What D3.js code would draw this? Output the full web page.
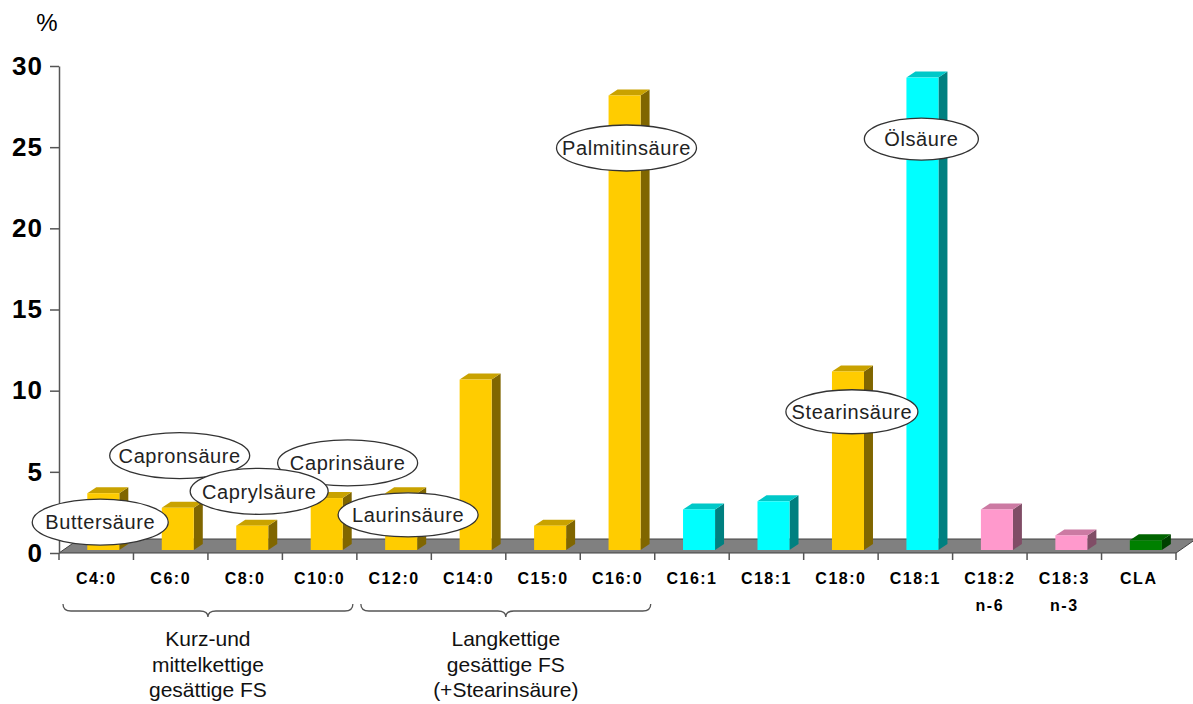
<!DOCTYPE html>
<html>
<head>
<meta charset="utf-8">
<script src="https://cdn.jsdelivr.net/npm/d3@7"></script>
<style>
  html, body { margin: 0; padding: 0; background: #fff; }
  svg { display: block; font-family: "Liberation Sans", Arial, sans-serif; }
</style>
</head>
<body>
<svg id="chart" width="1193" height="704"></svg>
<script>
// Fatty acid composition of milk fat, % of total fatty acids
const categories = ["C4:0", "C6:0", "C8:0", "C10:0", "C12:0", "C14:0", "C15:0", "C16:0",
                    "C16:1", "C18:1", "C18:0", "C18:1", "C18:2", "C18:3", "CLA"];
const subLabels  = ["", "", "", "", "", "", "", "", "", "", "", "", "n-6", "n-3", ""];
const values     = [3.5, 2.6, 1.5, 3.2, 3.5, 10.5, 1.5, 28.0, 2.5, 3.0, 11.0, 29.1, 2.5, 0.9, 0.6];
const kinds      = ["sat", "sat", "sat", "sat", "sat", "sat", "sat", "sat",
                    "mono", "mono", "sat", "mono", "poly", "poly", "cla"];
const yTicks     = [0, 5, 10, 15, 20, 25, 30];

// Named acids shown in oval callouts: category index and height (in %)
const calloutNames = ["Capronsäure", "Caprinsäure", "Buttersäure", "Caprylsäure", "Laurinsäure",
                      "Palmitinsäure", "Stearinsäure", "Ölsäure"];
const calloutCats  = [1, 3, 0, 2, 4, 7, 10, 11];
const calloutAt    = [6.0, 5.55, 1.9, 3.8, 2.35, 24.95, 8.7, 25.5];

// Category groups with braces
const groupRanges = [[0, 3], [4, 7]];
const groupLines  = [["Kurz-und", "mittelkettige", "gesättige FS"],
                     ["Langkettige", "gesättige FS", "(+Stearinsäure)"]];

// ---- layout & style ----
const colors = {
  sat:  { front: "#FFCC00", side: "#806600", top: "#C9A200" },
  mono: { front: "#00FFFF", side: "#008080", top: "#00C8C8" },
  poly: { front: "#FF99CC", side: "#804D66", top: "#CC7AA3" },
  cla:  { front: "#008000", side: "#004000", top: "#006400" }
};
const calloutOffset = [9, 28, 4, 14, 14, 9, 11, 6];
const calloutRx     = [70, 70, 68, 69, 70, 70, 66, 57];
const calloutRy     = [23, 23, 23, 23, 22, 23, 22, 21];

const svg = d3.select("#chart");
const x0 = 59, x1 = 1176, yBase = 553;
const floorDx = 20, floorDy = 14;
const barDx = 9, barDy = 6;

const x = d3.scaleBand().domain(d3.range(categories.length)).range([x0, x1]).padding(0);
const y = d3.scaleLinear().domain([0, 30]).range([yBase, 66]);
// bars stand slightly back on the floor
const yBar = d3.scaleLinear().domain([0, 30]).range([yBase - 3, 66 - 3]);

// floor
svg.append("polygon")
  .attr("points", [[x0, yBase], [x1, yBase], [x1 + floorDx, yBase - floorDy], [x0 + floorDx, yBase - floorDy]]
    .map(p => p.join(",")).join(" "))
  .attr("fill", "#808080")
  .attr("stroke", "#404040")
  .attr("stroke-width", 1);

// y axis
const yAxis = svg.append("g")
  .attr("transform", `translate(${x0},0)`)
  .call(d3.axisLeft(y).tickValues(yTicks).tickSize(9).tickSizeOuter(0).tickPadding(7));
yAxis.select(".domain").attr("stroke", "#555").attr("stroke-width", 1.5);
yAxis.selectAll(".tick line").attr("stroke", "#555").attr("stroke-width", 1.5);
yAxis.selectAll(".tick text")
  .attr("font-family", "'Liberation Sans', Arial, sans-serif")
  .attr("font-size", 26)
  .attr("font-weight", "bold")
  .attr("letter-spacing", 1)
  .attr("fill", "#000");

svg.append("text")
  .attr("x", 47).attr("y", 31)
  .attr("text-anchor", "middle")
  .attr("font-size", 24)
  .attr("fill", "#000")
  .text("%");

// x axis: boundary ticks and labels
const bw = x.bandwidth();
const bounds = d3.range(categories.length + 1).map(i => x0 + i * bw);
svg.append("g").selectAll("line").data(bounds).join("line")
  .attr("x1", d => d).attr("x2", d => d)
  .attr("y1", yBase).attr("y2", yBase + 7)
  .attr("stroke", "#555").attr("stroke-width", 1.5);

const xl = svg.append("g");
xl.selectAll("text.cat").data(categories).join("text")
  .attr("class", "cat")
  .attr("x", (d, i) => x(i) + bw / 2)
  .attr("y", 584)
  .attr("text-anchor", "middle")
  .attr("font-size", 16)
  .attr("font-weight", "bold")
  .attr("letter-spacing", 1.5)
  .text(d => d);
xl.selectAll("text.sub").data(subLabels).join("text")
  .attr("class", "sub")
  .attr("x", (d, i) => x(i) + bw / 2)
  .attr("y", 611)
  .attr("text-anchor", "middle")
  .attr("font-size", 16)
  .attr("font-weight", "bold")
  .attr("letter-spacing", 1.5)
  .text(d => d);

// 3D bars
const bars = svg.append("g").selectAll("g").data(values).join("g");
bars.each(function (v, i) {
  const g = d3.select(this);
  const c = colors[kinds[i]];
  const left = x(i) + bw * 0.38;
  const w = bw * 0.43;
  const top = yBar(v), bot = yBar(0);
  g.append("polygon") // side
    .attr("points", [[left + w, bot], [left + w + barDx, bot - barDy], [left + w + barDx, top - barDy], [left + w, top]]
      .map(p => p.join(",")).join(" "))
    .attr("fill", c.side);
  g.append("polygon") // top
    .attr("points", [[left, top], [left + barDx, top - barDy], [left + w + barDx, top - barDy], [left + w, top]]
      .map(p => p.join(",")).join(" "))
    .attr("fill", c.top);
  g.append("rect") // front
    .attr("x", left).attr("y", top)
    .attr("width", w).attr("height", bot - top)
    .attr("fill", c.front);
});

// oval callouts
const callouts = svg.append("g").selectAll("g").data(calloutNames).join("g")
  .attr("transform", (d, i) => `translate(${x(calloutCats[i]) + bw / 2 + calloutOffset[i]},${y(calloutAt[i])})`);
callouts.append("ellipse")
  .attr("rx", (d, i) => calloutRx[i])
  .attr("ry", (d, i) => calloutRy[i])
  .attr("fill", "#fff")
  .attr("stroke", "#333")
  .attr("stroke-width", 1.3);
callouts.append("text")
  .attr("text-anchor", "middle")
  .attr("dy", "0.36em")
  .attr("font-size", 20)
  .attr("letter-spacing", 0.6)
  .attr("fill", "#222")
  .text(d => d);

// braces and group captions
function bracePath(a, b, yTop) {
  const m = (a + b) / 2, r = 8, yL = yTop + 7, yTip = yTop + 13;
  return `M${a},${yTop} Q${a},${yL} ${a + r},${yL} L${m - r},${yL} Q${m},${yL} ${m},${yTip}` +
         ` Q${m},${yL} ${m + r},${yL} L${b - r},${yL} Q${b},${yL} ${b},${yTop}`;
}
groupRanges.forEach((r, gi) => {
  const a = x(r[0]) + 4, b = x(r[1]) + bw - 4;
  svg.append("path")
    .attr("d", bracePath(a, b, 604))
    .attr("fill", "none")
    .attr("stroke", "#555")
    .attr("stroke-width", 1.3);
  svg.append("g").selectAll("text").data(groupLines[gi]).join("text")
    .attr("x", (a + b) / 2)
    .attr("y", (d, k) => 646 + k * 25.5)
    .attr("text-anchor", "middle")
    .attr("font-size", 21)
    .attr("fill", "#111")
    .text(d => d);
});
</script>
</body>
</html>
